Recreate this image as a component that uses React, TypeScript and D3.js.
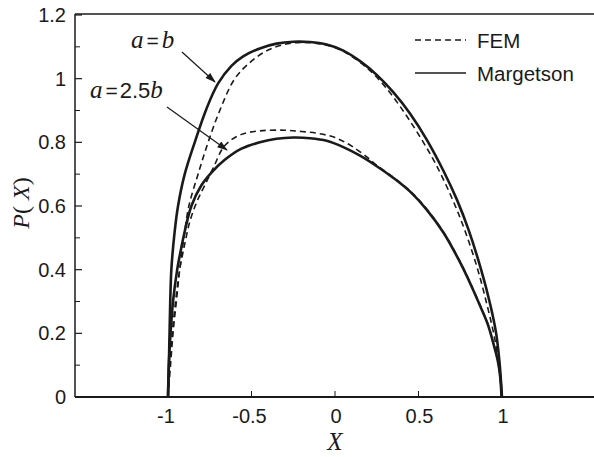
import React from "react";
import * as d3 from "d3";

const W = 594;
const H = 457;

// Margetson, a = b
const margAX = [-1, -0.995, -0.99, -0.98, -0.96, -0.94, -0.9, -0.84, -0.77, -0.7, -0.62, -0.55, -0.45, -0.35, -0.25, -0.15, -0.05, 0.05, 0.15, 0.25, 0.35, 0.45, 0.55, 0.65, 0.73, 0.8, 0.875, 0.93, 0.965, 0.985, 1.0];
const margAY = [0, 0.1, 0.22, 0.4, 0.52, 0.6, 0.7, 0.8, 0.905, 0.985, 1.04, 1.07, 1.095, 1.11, 1.116, 1.115, 1.107, 1.088, 1.055, 1.012, 0.957, 0.89, 0.808, 0.71, 0.62, 0.525, 0.4, 0.29, 0.2, 0.11, 0];

// FEM, a = b
const femAX = [-1, -0.985, -0.97, -0.95, -0.93, -0.905, -0.875, -0.82, -0.76, -0.69, -0.6, -0.5, -0.4, -0.3, -0.2, -0.1, 0, 0.1, 0.2, 0.3, 0.4, 0.5, 0.6, 0.7, 0.78, 0.855, 0.91, 0.95, 0.98, 1.0];
const femAY = [0, 0.1, 0.2, 0.3, 0.4, 0.5, 0.6, 0.7, 0.8, 0.9, 1.0, 1.055, 1.09, 1.108, 1.114, 1.11, 1.098, 1.07, 1.03, 0.975, 0.905, 0.825, 0.735, 0.625, 0.52, 0.4, 0.29, 0.2, 0.11, 0];

// Margetson, a = 2.5b
const margBX = [-1, -0.995, -0.985, -0.97, -0.945, -0.92, -0.9, -0.86, -0.8, -0.74, -0.66, -0.56, -0.45, -0.35, -0.25, -0.15, -0.05, 0.05, 0.15, 0.25, 0.35, 0.45, 0.55, 0.65, 0.75, 0.82, 0.87, 0.915, 0.95, 0.975, 0.99, 0.997];
const margBY = [0, 0.1, 0.2, 0.3, 0.4, 0.47, 0.52, 0.6, 0.665, 0.705, 0.745, 0.78, 0.8, 0.811, 0.815, 0.813, 0.805, 0.785, 0.758, 0.725, 0.688, 0.645, 0.588, 0.516, 0.422, 0.345, 0.285, 0.228, 0.165, 0.113, 0.06, 0];

// FEM, a = 2.5b
const femBX = [-1, -0.99, -0.975, -0.955, -0.93, -0.9, -0.87, -0.83, -0.78, -0.72, -0.68, -0.64, -0.56, -0.45, -0.3, -0.2, -0.1, 0, 0.1, 0.2, 0.25, 0.35, 0.45, 0.55, 0.65, 0.75, 0.82, 0.87, 0.915, 0.95, 0.975, 0.99, 0.997];
const femBY = [0, 0.1, 0.2, 0.3, 0.4, 0.48, 0.55, 0.61, 0.665, 0.73, 0.775, 0.8, 0.825, 0.836, 0.838, 0.834, 0.828, 0.815, 0.788, 0.75, 0.728, 0.69, 0.647, 0.59, 0.518, 0.424, 0.347, 0.287, 0.23, 0.167, 0.115, 0.061, 0];

const xTicks = [-1, -0.5, 0, 0.5, 1];
const xTickLabels = ["-1", "-0.5", "0", "0.5", "1"];
const yTicks = [0, 0.2, 0.4, 0.6, 0.8, 1, 1.2];
const yTickLabels = ["0", "0.2", "0.4", "0.6", "0.8", "1", "1.2"];
const yMinorTicks = [0.1, 0.3, 0.5, 0.7, 0.9, 1.1];

const legendLabels = ["FEM", "Margetson"];

const LEFT = 75;
const TOP = 14;
const BOTTOM = 397;

export default function App() {
  const x = d3.scaleLinear().domain([-1.557, 1.551]).range([LEFT, W]);
  const y = d3.scaleLinear().domain([0, 1.2]).range([BOTTOM, 15]);

  const line = d3
    .line<[number, number]>()
    .x((d) => x(d[0]))
    .y((d) => y(d[1]))
    .curve(d3.curveCatmullRom.alpha(0.5));

  const zip = (xs: number[], ys: number[]) => xs.map((v, i) => [v, ys[i]] as [number, number]);

  const ink = "#1a1a1a";
  const sans = "'Liberation Sans', Arial, sans-serif";
  const serif = "'Liberation Serif', 'Times New Roman', serif";

  return (
    <svg
      width={W}
      height={H}
      style={{ position: "absolute", left: 0, top: 0, background: "#fff" }}
    >
      <defs>
        <marker id="arr" viewBox="0 0 12 8" refX="11" refY="4" markerWidth="12" markerHeight="7" orient="auto" markerUnits="userSpaceOnUse">
          <path d="M0,0 L12,4 L0,8 z" fill={ink} />
        </marker>
      </defs>
      <rect x={0} y={0} width={W} height={H} fill="#fff" />

      {/* frame */}
      <line x1={LEFT} x2={W} y1={TOP} y2={TOP} stroke={ink} strokeWidth={1.3} />
      <line x1={LEFT} x2={LEFT} y1={TOP} y2={BOTTOM} stroke={ink} strokeWidth={1.5} />
      <line x1={LEFT} x2={W} y1={BOTTOM} y2={BOTTOM} stroke={ink} strokeWidth={1.8} />

      {/* y ticks */}
      {yTicks.map((t, i) => (
        <g key={"yt" + i}>
          <line x1={LEFT} x2={LEFT + 7} y1={y(t)} y2={y(t)} stroke={ink} strokeWidth={1.2} />
          <text x={66} y={y(t) + 7} textAnchor="end" fontFamily={sans} fontSize={20} fill={ink}>
            {yTickLabels[i]}
          </text>
        </g>
      ))}
      {yMinorTicks.map((t, i) => (
        <line key={"ym" + i} x1={LEFT} x2={LEFT + 5} y1={y(t)} y2={y(t)} stroke={ink} strokeWidth={1} />
      ))}

      {/* x ticks */}
      {xTicks.map((t, i) => (
        <g key={"xt" + i}>
          <line x1={x(t)} x2={x(t)} y1={BOTTOM} y2={BOTTOM - 6} stroke={ink} strokeWidth={1} />
          <text x={x(t) + (t < 0 ? -2 : 1)} y={423} textAnchor="middle" fontFamily={sans} fontSize={20} fill={ink}>
            {xTickLabels[i]}
          </text>
        </g>
      ))}

      {/* axis titles */}
      <text x={x(0)} y={450} textAnchor="middle" fontFamily={serif} fontStyle="italic" fontSize={25} fill={ink}>
        X
      </text>
      <text transform={`translate(29,203) rotate(-90)`} textAnchor="middle" fontFamily={serif} fontSize={24} fill={ink}>
        <tspan fontStyle="italic">P</tspan>
        <tspan>( </tspan>
        <tspan fontStyle="italic">X</tspan>
        <tspan>)</tspan>
      </text>

      {/* curves */}
      <path d={line(zip(femAX, femAY)) || ""} fill="none" stroke={ink} strokeWidth={1.6} strokeDasharray="6,4" />
      <path d={line(zip(femBX, femBY)) || ""} fill="none" stroke={ink} strokeWidth={1.6} strokeDasharray="6,4" />
      <path d={line(zip(margAX, margAY)) || ""} fill="none" stroke={ink} strokeWidth={2.6} />
      <path d={line(zip(margBX, margBY)) || ""} fill="none" stroke={ink} strokeWidth={2.6} />

      {/* annotations */}
      <text x={131} y={48} fontSize={25} fill={ink}>
        <tspan fontFamily={serif} fontStyle="italic">a</tspan>
        <tspan fontFamily={sans} fontSize={21} dx={3}>=</tspan>
        <tspan fontFamily={serif} fontStyle="italic" dx={3}>b</tspan>
      </text>
      <line x1={182} y1={52} x2={215} y2={82} stroke={ink} strokeWidth={1.2} markerEnd="url(#arr)" />
      <text x={90} y={98} fontSize={25} fill={ink}>
        <tspan fontFamily={serif} fontStyle="italic">a</tspan>
        <tspan fontFamily={sans} fontSize={21} dx={3}>=</tspan>
        <tspan fontFamily={sans} fontSize={22} dx={2}>2.5</tspan>
        <tspan fontFamily={serif} fontStyle="italic">b</tspan>
      </text>
      <line x1={167} y1={107} x2={227} y2={150} stroke={ink} strokeWidth={1.2} markerEnd="url(#arr)" />

      {/* legend */}
      <line x1={415} x2={466} y1={40} y2={40} stroke={ink} strokeWidth={1.6} strokeDasharray="6,4" />
      <text x={477} y={48} fontFamily={sans} fontSize={20.5} fill={ink}>
        {legendLabels[0]}
      </text>
      <line x1={415} x2={466} y1={73} y2={73} stroke={ink} strokeWidth={1.6} />
      <text x={477} y={81} fontFamily={sans} fontSize={20.5} fill={ink}>
        {legendLabels[1]}
      </text>
    </svg>
  );
}
